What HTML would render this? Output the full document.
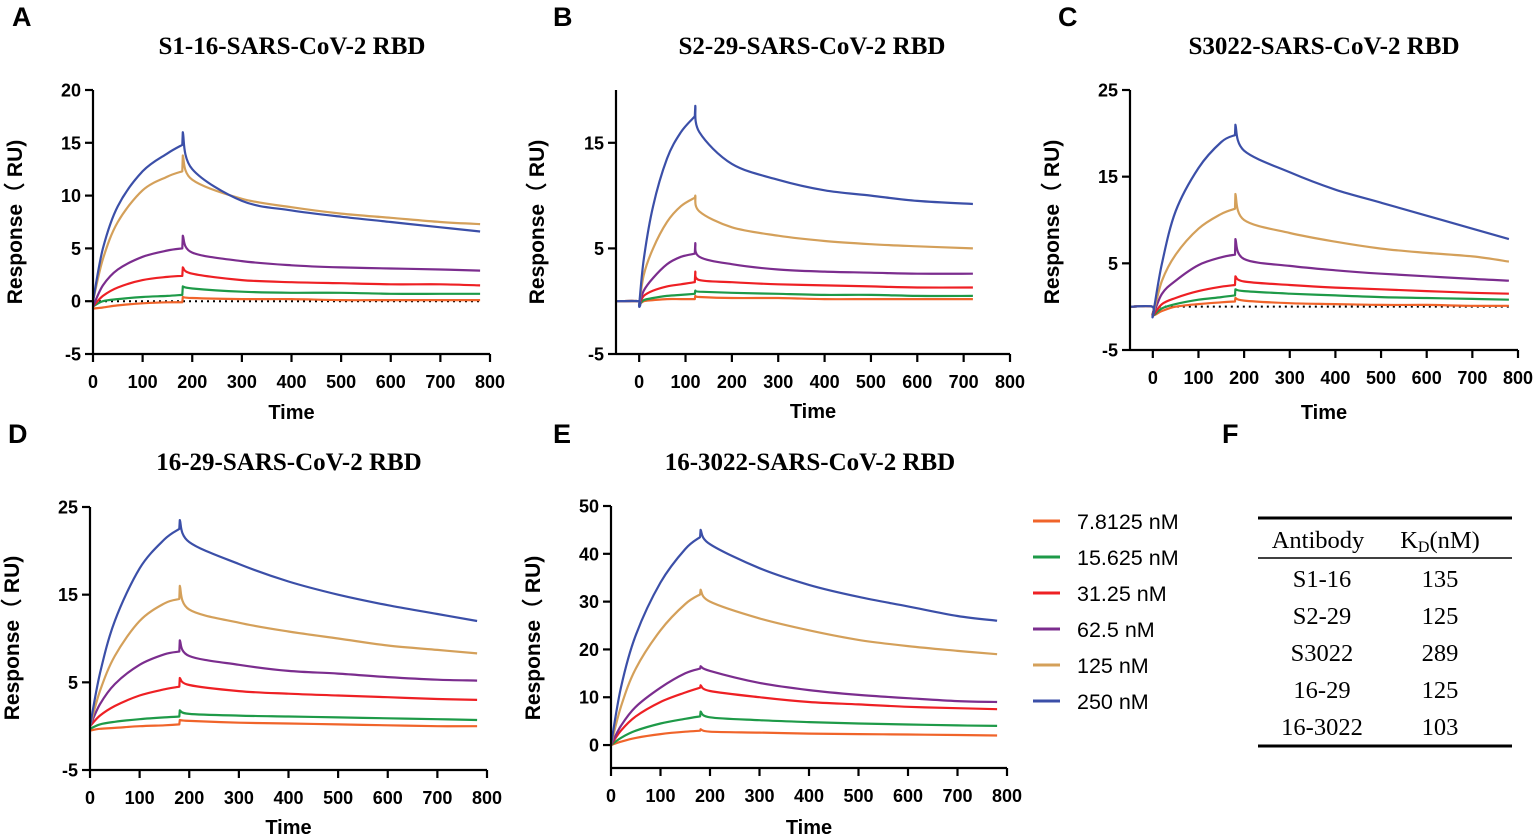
<!DOCTYPE html>
<html><head><meta charset="utf-8">
<style>
html,body{margin:0;padding:0;background:#fff;}
svg{display:block;}
.tick{font-family:"Liberation Sans",Arial,sans-serif;font-size:18px;font-weight:bold;fill:#000;}
.ttl{font-family:"Liberation Serif",serif;font-size:25px;font-weight:bold;fill:#000;}
.ax{font-family:"Liberation Sans",Arial,sans-serif;font-size:20px;font-weight:bold;fill:#000;}
.yax{font-family:"Liberation Sans",Arial,sans-serif;font-size:21px;font-weight:bold;fill:#000;}
.let{font-family:"Liberation Sans",Arial,sans-serif;font-size:27px;font-weight:bold;fill:#000;}
.leg{font-family:"Liberation Sans",Arial,sans-serif;font-size:21.5px;fill:#000;}
.tab{font-family:"Liberation Serif",serif;font-size:24.5px;fill:#000;}
</style></head>
<body>
<svg id="fig" width="1535" height="835" viewBox="0 0 1535 835" xmlns="http://www.w3.org/2000/svg">
<g id="static">
  <text class="let" x="12" y="26">A</text>
  <text class="let" x="553" y="26">B</text>
  <text class="let" x="1058" y="26">C</text>
  <text class="let" x="8" y="443">D</text>
  <text class="let" x="553" y="443">E</text>
  <text class="let" x="1222" y="443">F</text>
  <g>
    <line x1="1258" y1="518" x2="1512" y2="518" stroke="#000" stroke-width="3"/>
    <line x1="1258" y1="558" x2="1512" y2="558" stroke="#000" stroke-width="1.5"/>
    <line x1="1258" y1="746" x2="1512" y2="746" stroke="#000" stroke-width="3"/>
    <text class="tab" x="1318" y="548" text-anchor="middle">Antibody</text>
    <text class="tab" x="1440" y="548" text-anchor="middle">K<tspan font-size="16" dy="4">D</tspan><tspan dy="-4">(nM)</tspan></text>
    <text class="tab" x="1322" y="587" text-anchor="middle">S1-16</text><text class="tab" x="1440" y="587" text-anchor="middle">135</text>
    <text class="tab" x="1322" y="624" text-anchor="middle">S2-29</text><text class="tab" x="1440" y="624" text-anchor="middle">125</text>
    <text class="tab" x="1322" y="661" text-anchor="middle">S3022</text><text class="tab" x="1440" y="661" text-anchor="middle">289</text>
    <text class="tab" x="1322" y="698" text-anchor="middle">16-29</text><text class="tab" x="1440" y="698" text-anchor="middle">125</text>
    <text class="tab" x="1322" y="735" text-anchor="middle">16-3022</text><text class="tab" x="1440" y="735" text-anchor="middle">103</text>
  </g>
</g>
</svg>
<script>
var NS="http://www.w3.org/2000/svg";
var svg=document.getElementById('fig');
var seriesNames=["7.8125 nM","15.625 nM","31.25 nM","62.5 nM","125 nM","250 nM"];
var seriesColors=["#F0642A","#1E9A48","#EE2024","#7B2D8E","#D4A05A","#3B4FA8"];

// Panel A
var timesA=[0,20,50,100,150,180,181,200,300,400,500,600,700,780];
var a_o=[-0.7,-0.6,-0.4,-0.2,-0.1,-0.1,0.4,0.3,0.2,0.2,0.1,0.1,0.1,0.1];
var a_g=[-0.5,0,0.2,0.4,0.5,0.6,1.4,1.2,0.9,0.8,0.8,0.7,0.7,0.7];
var a_r=[-0.5,0.5,1.3,2,2.3,2.4,3.2,2.6,2,1.8,1.7,1.6,1.6,1.5];
var a_p=[-0.5,1.5,3,4.2,4.8,5,6.2,4.6,3.8,3.4,3.2,3.1,3,2.9];
var a_t=[0,4,7.5,10.5,11.8,12.3,13.8,11.5,9.7,8.9,8.3,7.9,7.5,7.3];
var a_b=[0,5,9,12.3,14,14.8,16,12.5,9.5,8.6,8,7.5,7,6.6];
var yTicksA=[-5,0,5,10,15,20];
// Panel B
var timesB=[-50,-1,0,10,30,60,90,120,121,130,200,300,400,500,600,720];
var b_o=[0,0,-0.3,0,0.1,0.2,0.2,0.2,0.5,0.4,0.3,0.3,0.2,0.2,0.2,0.2];
var b_g=[0,0,-0.3,0.1,0.3,0.5,0.6,0.7,1,0.9,0.8,0.7,0.6,0.6,0.5,0.5];
var b_r=[0,0,-0.3,0.5,1,1.4,1.6,1.8,2.8,2,1.8,1.6,1.5,1.4,1.3,1.3];
var b_p=[0,0,-0.3,1,2.2,3.5,4.2,4.5,5.5,4.2,3.5,3,2.8,2.7,2.6,2.6];
var b_t=[0,0,-0.3,2.5,5,7.5,9,9.8,10,8.5,7,6.2,5.7,5.4,5.2,5];
var b_b=[0,0,-0.3,4,9,13.5,16,17.5,18.5,16,13,11.5,10.5,10,9.5,9.2];
var yTicksB=[-5,5,15];
// Panel C
var timesC=[-50,-1,0,20,50,100,150,180,181,200,300,400,500,600,700,780];
var c_o=[0,0,-1,-0.5,0,0.3,0.5,0.6,1,0.7,0.4,0.3,0.2,0.2,0.1,0.1];
var c_g=[0,0,-1,-0.2,0.3,0.8,1.1,1.3,2,1.8,1.5,1.3,1.1,1,0.9,0.8];
var c_r=[0,0,-1,0.3,1,1.8,2.3,2.5,3.5,2.9,2.5,2.2,2,1.8,1.6,1.5];
var c_p=[0,0,-1,1.5,3,4.8,5.7,6,7.8,5.5,4.7,4.2,3.8,3.5,3.2,3];
var c_t=[0,0,-1,3,6,9,10.7,11.3,13,10,8.5,7.5,6.7,6.2,5.8,5.2];
var c_b=[0,0,-1,5,11,16,19,19.8,21,18,15.5,13.5,12,10.5,9,7.8];
var yTicksC=[-5,5,15,25];
// Panel D
var timesD=[0,20,50,100,150,180,181,200,300,400,500,600,700,780];
var d_o=[-0.5,-0.3,-0.2,0,0.1,0.2,0.7,0.6,0.4,0.3,0.2,0.1,0,0];
var d_g=[-0.3,0.2,0.5,0.8,1,1.1,1.8,1.4,1.2,1.1,1,0.9,0.8,0.7];
var d_r=[0,1.2,2.3,3.5,4.2,4.5,5.5,4.7,4,3.7,3.5,3.3,3.1,3];
var d_p=[0,2.5,4.8,7,8.2,8.5,9.8,8,7,6.3,6,5.6,5.3,5.2];
var d_t=[0,4,8,12,14,14.5,16,13.3,11.8,10.8,10,9.2,8.7,8.3];
var d_b=[0,6,12,18,21.3,22.5,23.5,21,18.5,16.5,15,13.8,12.8,12];
var yTicksD=[-5,5,15,25];
// Panel E
var timesE=[0,20,50,100,150,180,181,200,300,400,500,600,700,780];
var e_o=[0,0.7,1.5,2.3,2.8,3,3.3,2.8,2.6,2.4,2.3,2.2,2.1,2];
var e_g=[0,1.5,3,4.5,5.5,6,7,5.8,5.2,4.8,4.5,4.3,4.1,4];
var e_r=[0,3,6,9,11,12,12.5,11.3,10,9,8.5,8,7.7,7.5];
var e_p=[0,4,8,12,15,16,16.5,15.5,13,11.5,10.5,9.8,9.2,9];
var e_t=[0,8,16,24,29.5,31.5,32.5,30,26.5,24,22,20.7,19.7,19];
var e_b=[0,12,23,34,41,43.5,45,42,37,33.5,31,29,27,26];
var yTicksE=[0,10,20,30,40,50];
var xTicks=[0,100,200,300,400,500,600,700,800];

var panels=[
 {id:'a',title:'S1-16-SARS-CoV-2 RBD',x0:93,x1:490,xmin:0,xmax:800,y0:354,y1:90,ymin:-5,ymax:20,times:timesA,series:[a_o,a_g,a_r,a_p,a_t,a_b],yt:yTicksA,spike:6,dot:[0,780],tx:292,ty:54,lx:15,ly:222,timeY:419},
 {id:'b',title:'S2-29-SARS-CoV-2 RBD',x0:616,x1:1010,xmin:-50,xmax:800,y0:354,y1:90,ymin:-5,ymax:20,times:timesB,series:[b_o,b_g,b_r,b_p,b_t,b_b],yt:yTicksB,spike:8,tx:812,ty:54,lx:537,ly:222,timeY:418},
 {id:'c',title:'S3022-SARS-CoV-2 RBD',x0:1130,x1:1518,xmin:-50,xmax:800,y0:350,y1:90,ymin:-5,ymax:25,times:timesC,series:[c_o,c_g,c_r,c_p,c_t,c_b],yt:yTicksC,spike:8,dot:[0,780],tx:1324,ty:54,lx:1052,ly:222,timeY:419},
 {id:'d',title:'16-29-SARS-CoV-2 RBD',x0:90,x1:487,xmin:0,xmax:800,y0:770,y1:507,ymin:-5,ymax:25,times:timesD,series:[d_o,d_g,d_r,d_p,d_t,d_b],yt:yTicksD,spike:6,tx:289,ty:470,lx:12,ly:638,timeY:834},
 {id:'e',title:'16-3022-SARS-CoV-2 RBD',x0:611,x1:1007,xmin:0,xmax:800,y0:768,y1:506,ymin:-4.8,ymax:50,times:timesE,series:[e_o,e_g,e_r,e_p,e_t,e_b],yt:yTicksE,spike:6,tx:810,ty:470,lx:533,ly:638,timeY:834}
];

function mk(tag,attrs,parent){var e=document.createElementNS(NS,tag);for(var k in attrs)e.setAttribute(k,attrs[k]);(parent||svg).appendChild(e);return e;}
function smooth(pts){
  if(pts.length<2)return '';
  var d='';
  for(var i=0;i<pts.length-1;i++){
    var p0=pts[i-1]||pts[i],p1=pts[i],p2=pts[i+1],p3=pts[i+2]||p2;
    var c1x=p1[0]+(p2[0]-p0[0])/6,c1y=p1[1]+(p2[1]-p0[1])/6;
    var c2x=p2[0]-(p3[0]-p1[0])/6,c2y=p2[1]-(p3[1]-p1[1])/6;
    d+=' C'+c1x.toFixed(1)+','+c1y.toFixed(1)+' '+c2x.toFixed(1)+','+c2y.toFixed(1)+' '+p2[0].toFixed(1)+','+p2[1].toFixed(1);
  }
  return d;
}
panels.forEach(function(P){
  var sx=function(v){return P.x0+(v-P.xmin)/(P.xmax-P.xmin)*(P.x1-P.x0);};
  var sy=function(v){return P.y0-(v-P.ymin)/(P.ymax-P.ymin)*(P.y0-P.y1);};
  var g=mk('g',{});
  
  
  var t=mk('text',{x:P.tx,y:P.ty,'text-anchor':'middle','class':'ttl'},g);t.textContent=P.title;
  
  
  if(P.dot){var dl=mk('line',{x1:sx(P.dot[0]),x2:sx(P.dot[1]),y1:sy(0),y2:sy(0),stroke:'#000','stroke-width':2,'stroke-dasharray':'2,4'},g);
    
    }
  P.series.forEach(function(vals,si){
    var pts=P.times.map(function(tm,i){return [sx(tm),sy(vals[i])];});
    var k=P.spike;
    var d='M'+pts[0][0].toFixed(1)+','+pts[0][1].toFixed(1)+smooth(pts.slice(0,k))+' L'+pts[k][0].toFixed(1)+','+pts[k][1].toFixed(1)+smooth(pts.slice(k));
    var pa=mk('path',{d:d,fill:'none',stroke:seriesColors[si],'stroke-width':2.2,'stroke-linejoin':'round'},g);
    
    
  });
  var ya=mk('line',{x1:P.x0,x2:P.x0,y1:P.y0,y2:P.y1,stroke:'#000','stroke-width':2.2},g);
  
  
  var xa=mk('line',{x1:P.x0,x2:P.x1,y1:P.y0,y2:P.y0,stroke:'#000','stroke-width':2.2},g);
  
  
  P.yt.forEach(function(v){
    mk('line',{x1:P.x0-8,x2:P.x0,y1:sy(v),y2:sy(v),stroke:'#000','stroke-width':2.2},g);
    var tt=mk('text',{x:P.x0-12,y:sy(v)+6.5,'text-anchor':'end','class':'tick'},g);tt.textContent=v;
    
    
  });
  xTicks.forEach(function(v){
    mk('line',{x1:sx(v),x2:sx(v),y1:P.y0,y2:P.y0+8,stroke:'#000','stroke-width':2.2},g);
    var tt=mk('text',{x:sx(v),y:P.y0+34,'text-anchor':'middle','class':'tick'},g);tt.textContent=v;
    
    
  });
  var xt=mk('text',{x:(P.x0+P.x1)/2,y:P.timeY,'text-anchor':'middle','class':'ax'},g);xt.textContent='Time';
  
  
  var yt=mk('text',{x:0,y:0,'text-anchor':'middle','class':'yax',transform:'translate('+(P.lx+7)+','+P.ly+') rotate(-90)'},g);yt.textContent='Response（ RU)';
  
  
});
var lg=mk('g',{});


seriesNames.forEach(function(n,i){
  var y=521+i*36;
  var e=mk('g',{},lg);
  
  
  mk('line',{x1:1033,x2:1060,y1:y,y2:y,stroke:seriesColors[i],'stroke-width':3},e);
  var t=mk('text',{x:1077,y:y+8,'class':'leg'},e);t.textContent=n;
});
</script>
</body></html>
